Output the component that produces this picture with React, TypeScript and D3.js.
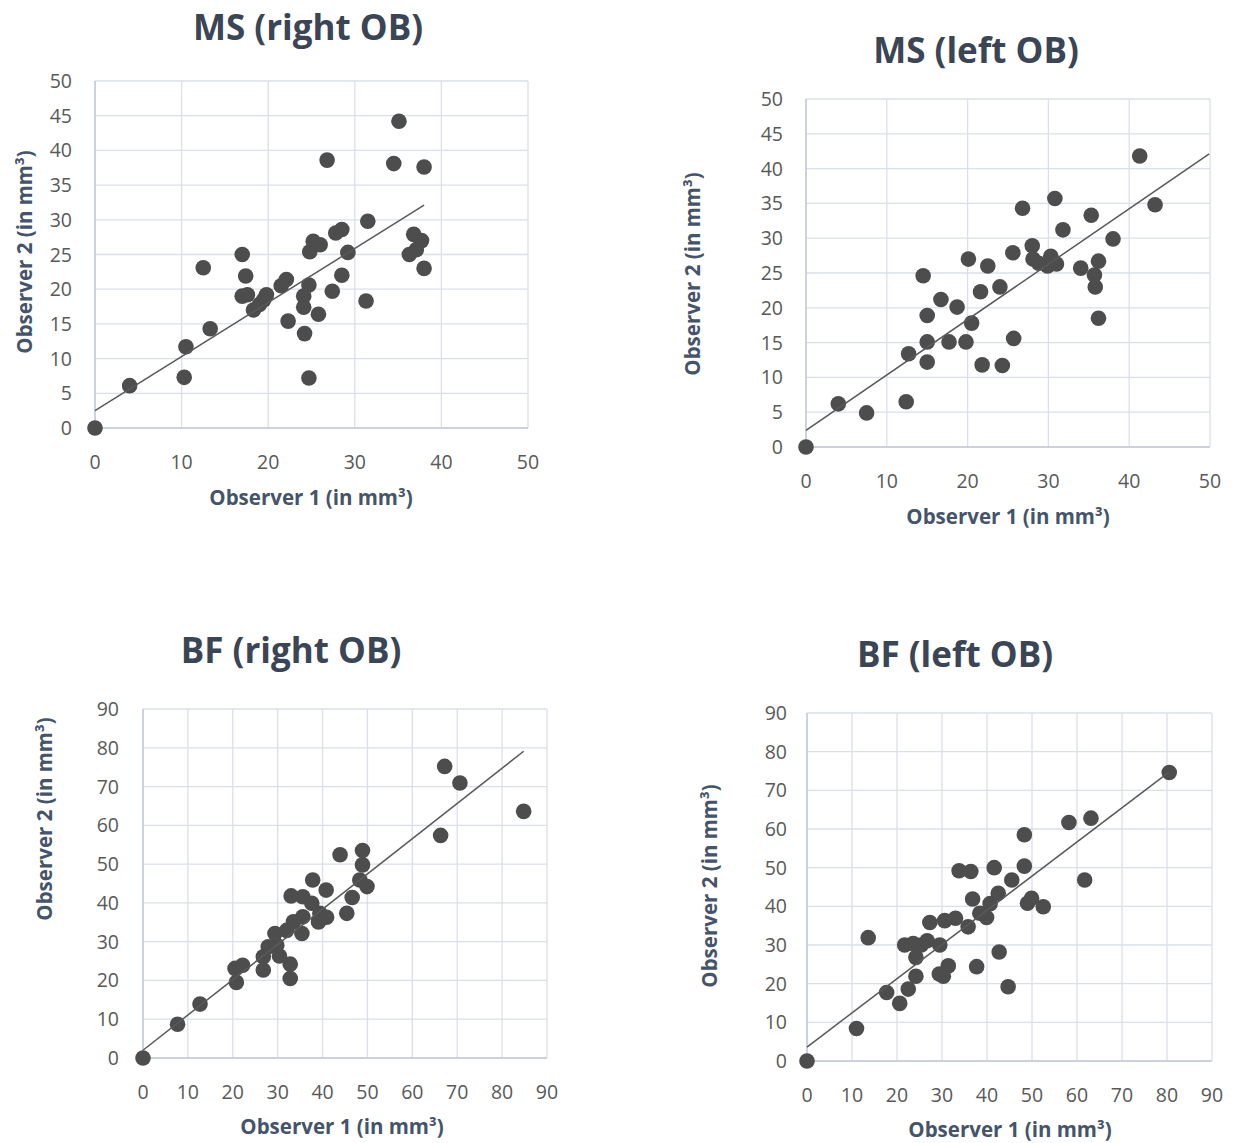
import React from 'react'
import * as d3 from 'd3'

// observer 1 / observer 2 volume pairs
const msRight = [
  [0, 0], [4.0, 6.1], [10.3, 7.3], [10.5, 11.7], [13.3, 14.3], [12.5, 23.1],
  [17.0, 25.0], [17.4, 21.9], [17.0, 19.0], [17.6, 19.2], [18.3, 17.0], [19.0, 17.8],
  [19.5, 18.5], [19.8, 19.2], [21.5, 20.5], [22.1, 21.4], [22.3, 15.4], [24.7, 20.6],
  [24.1, 19.0], [24.1, 17.4], [24.2, 13.6], [24.7, 7.2], [25.8, 16.4], [24.8, 25.4],
  [25.2, 26.9], [26.0, 26.4], [26.8, 38.6], [27.4, 19.7], [27.8, 28.1], [28.5, 28.6],
  [28.5, 22.0], [29.2, 25.3], [31.5, 29.8], [31.3, 18.3], [34.5, 38.1], [35.1, 44.2],
  [38.0, 37.6], [36.8, 27.9], [37.7, 27.0], [37.1, 25.7], [36.3, 25.0], [38.0, 23.0]
]
const msLeft = [
  [0, 0], [4.0, 6.2], [7.5, 4.9], [12.4, 6.5], [12.7, 13.4], [15.0, 15.1], [15.0, 12.2],
  [15.0, 18.9], [14.5, 24.6], [16.7, 21.2], [17.7, 15.1], [18.7, 20.1], [19.8, 15.1],
  [20.5, 17.8], [20.1, 27.0], [21.6, 22.3], [22.5, 26.0], [21.8, 11.8], [24.0, 23.0],
  [24.3, 11.7], [25.7, 15.6], [25.6, 27.9], [26.8, 34.3], [28.0, 28.9], [28.1, 27.0],
  [28.8, 26.4], [29.9, 26.0], [30.3, 27.4], [31.0, 26.3], [30.8, 35.7], [31.8, 31.2],
  [34.0, 25.7], [35.3, 33.3], [36.2, 26.7], [35.7, 24.7], [35.8, 23.0], [36.2, 18.5],
  [38.0, 29.9], [41.3, 41.8], [43.2, 34.8]
]
const bfRight = [
  [0, 0], [7.7, 8.7], [12.7, 13.9], [20.8, 19.5], [20.5, 23.1], [22.2, 23.9], [26.8, 22.7],
  [26.8, 26.1], [27.9, 28.7], [29.8, 29.1], [29.4, 32.1], [30.4, 26.3], [32.8, 24.2],
  [32.8, 20.5], [32.0, 32.9], [33.5, 35.1], [35.4, 32.1], [35.6, 36.4], [33.0, 41.8],
  [35.6, 41.6], [37.6, 39.9], [37.8, 45.9], [39.1, 35.1], [39.4, 37.3], [40.9, 36.3],
  [40.8, 43.3], [43.9, 52.4], [45.4, 37.3], [46.6, 41.4], [48.9, 53.5], [48.9, 49.8],
  [48.3, 45.9], [49.9, 44.2], [66.3, 57.4], [67.2, 75.2], [70.6, 70.9], [84.8, 63.6]
]
const bfLeft = [
  [0, 0], [11.0, 8.4], [13.6, 31.9], [17.7, 17.7], [20.6, 14.9], [22.5, 18.6], [24.2, 21.9],
  [24.2, 26.8], [21.7, 30.0], [23.6, 30.4], [25.4, 30.0], [26.7, 31.1], [29.5, 30.0],
  [27.3, 35.8], [30.6, 36.3], [33.0, 36.9], [35.8, 34.7], [29.4, 22.5], [31.4, 24.6],
  [30.3, 21.9], [33.8, 49.2], [36.4, 49.0], [36.8, 41.9], [38.4, 38.2], [39.9, 37.1],
  [40.7, 40.7], [42.5, 43.4], [37.7, 24.4], [41.6, 50.0], [42.7, 28.2], [45.5, 46.8],
  [44.7, 19.2], [48.3, 58.5], [48.3, 50.4], [49.0, 40.8], [49.9, 42.1], [52.5, 39.9],
  [58.2, 61.7], [63.1, 62.8], [61.7, 46.8], [80.5, 74.6]
]

// linear trendline end points [x, y]
const msRightTrend = [[0, 2.5], [38.0, 32.1]]
const msLeftTrend = [[0, 2.4], [49.9, 42.1]]
const bfRightTrend = [[0, 2.0], [84.8, 79.1]]
const bfLeftTrend = [[0, 3.6], [80.3, 74.6]]

const msTicks = d3.range(0, 51, 5)
const msXTicks = d3.range(0, 51, 10)
const bfTicks = d3.range(0, 91, 10)

const titles = ['MS (right OB)', 'MS (left OB)', 'BF (right OB)', 'BF (left OB)']
const xTitle = 'Observer 1 (in mm³)'
const yTitle = 'Observer 2 (in mm³)'

const FONT = '"Open Sans", Lato, sans-serif'

const panels = [
  { title: titles[0], data: msRight, trend: msRightTrend, max: 50, yTicks: msTicks, xTicks: msXTicks,
    box: [95, 528, 81, 428], titleAt: [308, 40], xTitleAt: [311, 505], yTitleAt: [32, 252], yGap: 23 },
  { title: titles[1], data: msLeft, trend: msLeftTrend, max: 50, yTicks: msTicks, xTicks: msXTicks,
    box: [806, 1210, 99, 447], titleAt: [976, 63], xTitleAt: [1008, 524], yTitleAt: [700, 274], yGap: 23 },
  { title: titles[2], data: bfRight, trend: bfRightTrend, max: 90, yTicks: bfTicks, xTicks: bfTicks,
    box: [143, 547, 709, 1058], titleAt: [291, 663], xTitleAt: [342, 1134], yTitleAt: [52, 819], yGap: 24 },
  { title: titles[3], data: bfLeft, trend: bfLeftTrend, max: 90, yTicks: bfTicks, xTicks: bfTicks,
    box: [807, 1212, 713, 1061], titleAt: [955, 667], xTitleAt: [1010, 1137], yTitleAt: [717, 886], yGap: 20 }
]

const Panel = ({ p }) => {
  const [l, r, t, b] = p.box
  const x = d3.scaleLinear().domain([0, p.max]).range([l, r])
  const y = d3.scaleLinear().domain([0, p.max]).range([b, t])
  const line = d3.line().x(d => x(d[0])).y(d => y(d[1]))

  return (
    <g>
      {/* grid */}
      {p.yTicks.map(v => (
        <line key={'gy' + v} x1={l} x2={r} y1={y(v)} y2={y(v)} stroke="#dae0e9" strokeWidth={1.3} />
      ))}
      {p.xTicks.map(v => (
        <line key={'gx' + v} x1={x(v)} x2={x(v)} y1={t} y2={b} stroke="#dae0e9" strokeWidth={1.3} />
      ))}
      <line x1={l} x2={l} y1={t} y2={b} stroke="#c3cbd8" strokeWidth={1.5} />
      <line x1={l} x2={r} y1={b} y2={b} stroke="#c3cbd8" strokeWidth={1.5} />

      {/* tick labels */}
      {p.yTicks.map(v => (
        <text key={'ty' + v} x={l - p.yGap} y={y(v)} dy="0.36em" textAnchor="end"
          fontFamily={FONT} fontSize={19.5} fill="#595959">{v}</text>
      ))}
      {p.xTicks.map(v => (
        <text key={'tx' + v} x={x(v)} y={b + 41} textAnchor="middle"
          fontFamily={FONT} fontSize={19.5} fill="#595959">{v}</text>
      ))}

      {/* points */}
      {p.data.map((d, i) => (
        <circle key={i} cx={x(d[0])} cy={y(d[1])} r={7.8} fill="#4d4d4d" />
      ))}

      {/* trendline */}
      <path d={line(p.trend)} fill="none" stroke="#595959" strokeWidth={1.5} />

      {/* titles */}
      <text x={p.titleAt[0]} y={p.titleAt[1]} textAnchor="middle" fontFamily={FONT}
        fontWeight="bold" fontSize={35} fill="#3a4556">{p.title}</text>
      <text x={p.xTitleAt[0]} y={p.xTitleAt[1]} textAnchor="middle" fontFamily={FONT}
        fontWeight="bold" fontSize={20.5} fill="#44546a">{xTitle}</text>
      <text transform={`translate(${p.yTitleAt[0]},${p.yTitleAt[1]}) rotate(-90)`} textAnchor="middle"
        fontFamily={FONT} fontWeight="bold" fontSize={20.5} fill="#44546a">{yTitle}</text>
    </g>
  )
}

export default function App() {
  return (
    <svg width={1241} height={1143} style={{ position: 'absolute', left: 0, top: 0, background: '#fff' }}>
      <rect width={1241} height={1143} fill="#fff" />
      {panels.map((p, i) => <Panel key={i} p={p} />)}
    </svg>
  )
}
